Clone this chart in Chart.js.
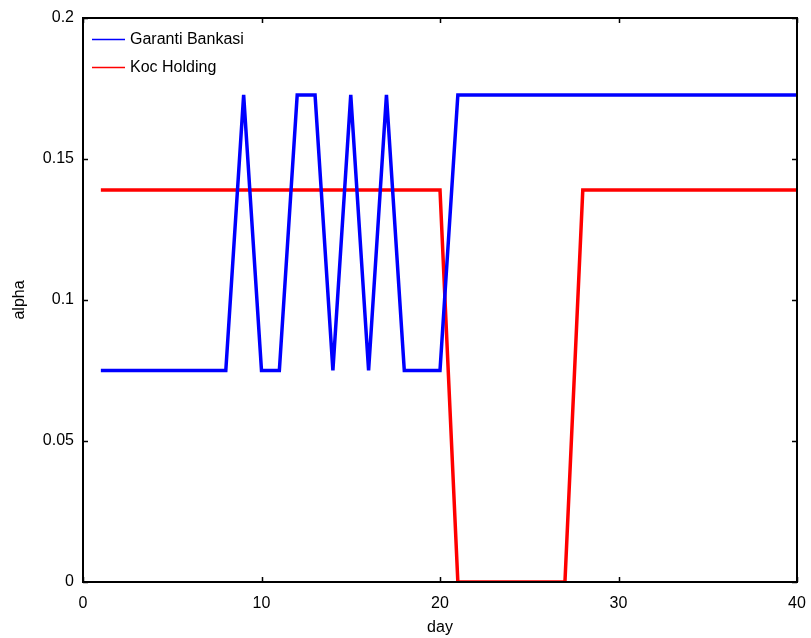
<!DOCTYPE html>
<html lang="en">
<head>
  <meta charset="UTF-8" />
  <title>alpha by day</title>
  <script src="https://cdn.jsdelivr.net/npm/chart.js"></script>
  <style>
    html, body { margin: 0; padding: 0; background: #fff; }
    canvas { display: block; }
  </style>
</head>
<body>
  <canvas id="alphaChart" width="811" height="638"></canvas>

  <script>
    // data (days 1..40)
    const days = Array.from({ length: 40 }, (_, i) => i + 1);
    const lo = 0.075, hi = 0.1727, koc = 0.139;
    const garanti = [
      lo, lo, lo, lo, lo, lo, lo, lo, hi, lo,
      lo, hi, hi, lo, hi, lo, hi, lo, lo, lo,
      hi, hi, hi, hi, hi, hi, hi, hi, hi, hi,
      hi, hi, hi, hi, hi, hi, hi, hi, hi, hi
    ];
    const kocHolding = [
      koc, koc, koc, koc, koc, koc, koc, koc, koc, koc,
      koc, koc, koc, koc, koc, koc, koc, koc, koc, koc,
      0, 0, 0, 0, 0, 0, 0, koc, koc, koc,
      koc, koc, koc, koc, koc, koc, koc, koc, koc, koc
    ];
    const seriesColors = ['#0000ff', '#ff0000'];
    const xTicks = [0, 10, 20, 30, 40];
    const yTicks = [0, 0.05, 0.1, 0.15, 0.2];

    const FONT = 'Liberation Sans, Arial, Helvetica, sans-serif';

    // box, inward ticks and legend drawn over the chart area
    const matlabAxes = {
      id: 'matlabAxes',
      afterDatasetsDraw(chart) {
        const { ctx, chartArea: a, scales } = chart;
        ctx.save();
        ctx.strokeStyle = '#000';
        ctx.lineWidth = 1.5;
        const tl = 5;
        xTicks.forEach(v => {
          const x = Math.round(scales.x.getPixelForValue(v)) + 0.5;
          ctx.beginPath();
          ctx.moveTo(x, a.bottom); ctx.lineTo(x, a.bottom - tl);
          ctx.moveTo(x, a.top); ctx.lineTo(x, a.top + tl);
          ctx.stroke();
        });
        yTicks.forEach(v => {
          const y = Math.round(scales.y.getPixelForValue(v)) + 0.5;
          ctx.beginPath();
          ctx.moveTo(a.left, y); ctx.lineTo(a.left + tl, y);
          ctx.moveTo(a.right, y); ctx.lineTo(a.right - tl, y);
          ctx.stroke();
        });
        ctx.lineWidth = 2;
        ctx.strokeRect(a.left, a.top, a.right - a.left, a.bottom - a.top);

        // legend
        ctx.font = '16px ' + FONT;
        ctx.textBaseline = 'middle';
        chart.data.datasets.forEach((ds, i) => {
          const y = Math.round(a.top + 21 + i * 27.5);
          ctx.strokeStyle = seriesColors[i];
          ctx.lineWidth = 1.5;
          ctx.beginPath();
          ctx.moveTo(a.left + 9, y + 0.5);
          ctx.lineTo(a.left + 42, y + 0.5);
          ctx.stroke();
          ctx.fillStyle = '#000';
          ctx.fillText(ds.label, a.left + 47, y + 1);
        });
        ctx.restore();
      }
    };

    const ctx = document.getElementById('alphaChart').getContext('2d');
    const alphaChart = new Chart(ctx, {
      type: 'line',
      data: {
        labels: days,
        datasets: [
          {
            label: 'Garanti Bankasi',
            data: days.map((d, i) => ({ x: d, y: garanti[i] })),
            borderColor: seriesColors[0],
            borderWidth: 3.5,
            pointRadius: 0,
            tension: 0
          },
          {
            label: 'Koc Holding',
            data: days.map((d, i) => ({ x: d, y: kocHolding[i] })),
            borderColor: seriesColors[1],
            borderWidth: 3.5,
            pointRadius: 0,
            tension: 0
          }
        ]
      },
      options: {
        responsive: false,
        animation: false,
        layout: { padding: { top: 18, right: 14, left: 0, bottom: 0 } },
        plugins: {
          legend: { display: false },
          tooltip: { enabled: false }
        },
        scales: {
          x: {
            type: 'linear',
            min: 0,
            max: 40,
            afterFit: s => { s.height = 56; s.paddingLeft = 0; s.paddingRight = 0; },
            afterBuildTicks: s => { s.ticks = xTicks.map(v => ({ value: v })); },
            grid: { display: false, drawTicks: false },
            border: { display: false },
            ticks: {
              color: '#000',
              padding: 12,
              maxRotation: 0,
              font: { family: FONT, size: 16 }
            },
            title: {
              display: true,
              text: 'day',
              color: '#000',
              padding: { top: 0, bottom: 1 },
              font: { family: FONT, size: 16 }
            }
          },
          y: {
            min: 0,
            max: 0.2,
            afterFit: s => { s.width = 83; s.paddingTop = 0; s.paddingBottom = 0; },
            afterBuildTicks: s => { s.ticks = yTicks.map(v => ({ value: v })); },
            grid: { display: false, drawTicks: false },
            border: { display: false },
            ticks: {
              color: '#000',
              padding: 9,
              font: { family: FONT, size: 16 },
              callback: v => String(+v.toFixed(2))
            },
            title: {
              display: true,
              text: 'alpha',
              color: '#000',
              padding: { top: 10, bottom: 0 },
              font: { family: FONT, size: 16 }
            }
          }
        }
      },
      plugins: [matlabAxes]
    });
  </script>
</body>
</html>
